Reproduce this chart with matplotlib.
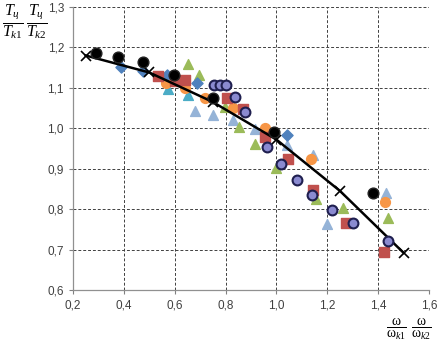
import matplotlib
matplotlib.use("Agg")
import matplotlib.pyplot as plt
from matplotlib.ticker import FixedLocator

plt.rcParams['mathtext.fontset'] = 'custom'
plt.rcParams['mathtext.rm'] = 'Liberation Serif'
plt.rcParams['mathtext.it'] = 'Liberation Serif:italic'

# Data
lb_tri_x = [0.679, 0.751, 0.830, 0.917, 1.040, 1.142, 1.197, 1.432]
lb_tri_y = [1.043, 1.032, 1.020, 0.997, 0.958, 0.935, 0.763, 0.839]
gr_tri_x = [0.651, 0.695, 0.797, 0.853, 0.915, 0.998, 1.157, 1.262, 1.439]
gr_tri_y = [1.159, 1.132, 1.053, 1.004, 0.961, 0.902, 0.824, 0.804, 0.779]
teal_tri_x = [0.575, 0.651]
teal_tri_y = [1.097, 1.082]
or_x = [0.564, 0.640, 0.721, 0.828, 0.954, 1.134, 1.426]
or_y = [1.111, 1.099, 1.076, 1.050, 1.000, 0.925, 0.818]
bd_x = [0.389, 0.474, 0.568, 0.686, 1.040]
bd_y = [1.152, 1.142, 1.132, 1.111, 0.983]
sq_x = [0.535, 0.601, 0.640, 0.807, 0.869, 0.954, 1.046, 1.144, 1.273, 1.422]
sq_y = [1.129, 1.118, 1.120, 1.076, 1.047, 0.979, 0.925, 0.847, 0.765, 0.694]
bk_x = [0.289, 0.376, 0.476, 0.596, 0.751, 0.990, 1.380]
bk_y = [1.185, 1.177, 1.165, 1.132, 1.076, 0.992, 0.840]
pu_x = [0.754, 0.777, 0.801, 0.839, 0.877, 0.961, 1.017, 1.079, 1.138, 1.219, 1.301, 1.439]
pu_y = [1.106, 1.106, 1.106, 1.077, 1.040, 0.953, 0.911, 0.873, 0.836, 0.798, 0.765, 0.722]
line_x = [0.25, 0.50, 0.75, 1.00, 1.25, 1.50]
line_y = [1.180, 1.138, 1.065, 0.972, 0.845, 0.692]

xticks = [0.2, 0.4, 0.6, 0.8, 1.0, 1.2, 1.4, 1.6]
yticks = [0.6, 0.7, 0.8, 0.9, 1.0, 1.1, 1.2, 1.3]

fig = plt.figure(figsize=(4.42, 3.5), dpi=100)
ax = fig.add_axes([73/442, 60/350, (429-73)/442, (290-7)/350])
ax.set_xlim(0.2, 1.6)
ax.set_ylim(0.6, 1.3)

ax.xaxis.set_major_locator(FixedLocator(xticks))
ax.yaxis.set_major_locator(FixedLocator(yticks))
ax.set_xticklabels([f"{v:.1f}".replace('.', ',') for v in xticks])
ax.set_yticklabels([f"{v:.1f}".replace('.', ',') for v in yticks])
ax.tick_params(labelsize=8.5, labelcolor='#404040', color='#808080', length=3, width=0.8)
for lab in ax.get_xticklabels() + ax.get_yticklabels():
    lab.set_fontfamily('Liberation Sans')

ax.grid(True, linestyle=(0, (3, 2)), color='#404040', linewidth=0.7)
ax.set_axisbelow(True)
for s in ['top', 'right']:
    ax.spines[s].set_visible(False)
for s in ['left', 'bottom']:
    ax.spines[s].set_color('#909090')
    ax.spines[s].set_linewidth(0.9)

ms = 50
ax.scatter(lb_tri_x, lb_tri_y, marker='^', s=ms, color='#95B3D7', zorder=3)
ax.scatter(gr_tri_x, gr_tri_y, marker='^', s=ms, color='#9BBB59', zorder=3)
ax.scatter(teal_tri_x, teal_tri_y, marker='^', s=ms, color='#4BACC6', zorder=3)
ax.scatter(or_x, or_y, marker='o', s=ms, color='#F79646', zorder=4)
ax.scatter(bd_x, bd_y, marker='D', s=32, color='#4F81BD', zorder=4)
ax.scatter(sq_x, sq_y, marker='s', s=ms, color='#C0504D', zorder=4)
ax.plot(line_x, line_y, color='black', linewidth=1.8, marker='x', markersize=7,
        markeredgewidth=1.2, zorder=5)
ax.scatter(bk_x, bk_y, marker='o', s=60, color='black', edgecolors='#222222', zorder=6)
ax.scatter(pu_x, pu_y, marker='o', s=50, color='#8A8AD0', edgecolors='#1F1F4F',
           linewidths=1.5, zorder=6)

# Axis labels as fractions
fs = 11.5
fig.text(13/442, 1 - 22/350, r'$\dfrac{T_ц}{T_{k1}}$', fontsize=fs, ha='center', va='center')
fig.text(37/442, 1 - 22/350, r'$\dfrac{T_ц}{T_{k2}}$', fontsize=fs, ha='center', va='center')
fig.text(396/442, 1 - 329/350, r'$\dfrac{\mathrm{\omega}}{\mathrm{\omega}_{k1}}$', fontsize=10, ha='center', va='center')
fig.text(421/442, 1 - 329/350, r'$\dfrac{\mathrm{\omega}}{\mathrm{\omega}_{k2}}$', fontsize=10, ha='center', va='center')

fig.savefig('out.png', dpi=100)
